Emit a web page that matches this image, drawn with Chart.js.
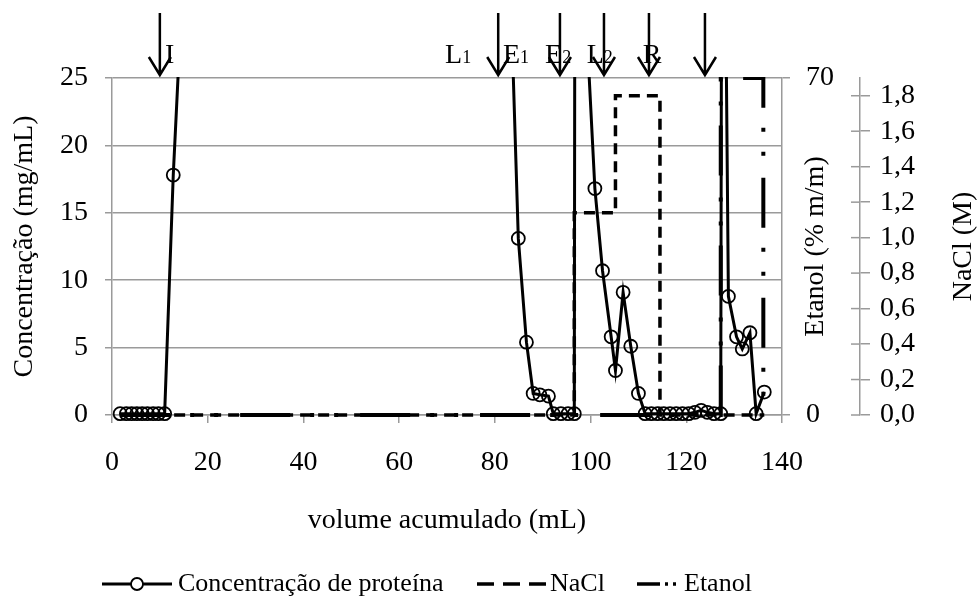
<!DOCTYPE html>
<html>
<head>
<meta charset="utf-8">
<script src="https://cdn.jsdelivr.net/npm/chart.js@4/dist/chart.umd.min.js"></script>
<style>
  html, body { margin: 0; padding: 0; background: #fff; }
  #grafico { display: block; }
</style>
</head>
<body>
<canvas id="grafico" width="979" height="596"></canvas>
<script>
// volume acumulado (mL) x concentração de proteína (mg/mL)
const proteinVolume = [1.7, 3.0, 4.1, 5.2, 6.3, 7.4, 8.6, 9.7, 11.0, 12.8, 14.2,
  83.6, 84.9, 86.6, 88.0, 89.4, 91.2, 92.2, 93.8, 95.3, 96.6, 96.8, 99.0,
  100.9, 102.5, 104.3, 105.2, 106.8, 108.4, 110.0,
  111.4, 112.7, 114.0, 115.3, 116.6, 117.9, 119.2, 120.5, 121.8, 123.1, 124.4, 125.8, 127.2,
  127.5, 128.8, 130.5, 131.7, 133.3, 134.6, 136.3];
const proteinConc = [0.1, 0.1, 0.1, 0.1, 0.1, 0.1, 0.1, 0.1, 0.1, 17.8, 28.0,
  28.0, 13.1, 5.4, 1.6, 1.5, 1.4, 0.1, 0.1, 0.1, 0.1, 60.0, 30.0,
  16.8, 10.7, 5.8, 3.3, 9.1, 5.1, 1.6,
  0.1, 0.1, 0.1, 0.1, 0.1, 0.1, 0.1, 0.1, 0.2, 0.35, 0.2, 0.1, 0.1,
  60.0, 8.8, 5.8, 4.9, 6.1, 0.1, 1.7];

// NaCl (M)
const naclVolume = [1.7, 96.6, 96.6, 105.2, 105.2, 114.5, 114.5, 136.3];
const naclConc = [0, 0, 1.14, 1.14, 1.8, 1.8, 0, 0];

// Etanol (% m/m)
const etanolVolume = [1.7, 127.2, 127.2, 136.1, 136.1];
const etanolConc = [0, 0, 70, 70, 0];

// setas das etapas
const arrowVolume = [10.0, 80.7, 93.6, 102.8, 112.2, 123.9];
const stageName = ['I', 'L', 'E', 'E', 'L', 'R'];
const stageSub = ['', '1', '1', '2', '2', ''];
const stageVolume = [11.1, 69.6, 81.7, 90.5, 99.2, 110.9];

const serif = "'Liberation Serif', 'Times New Roman', serif";
const gray = '#9a9a9a';

function toPoints(xs, ys) {
  return xs.map((x, i) => ({ x: x, y: ys[i] }));
}

// setas e letras acima do gráfico
const stagesPlugin = {
  id: 'stages',
  afterDraw(chart) {
    const ctx = chart.ctx;
    const xs = chart.scales.x;
    const top = chart.chartArea.top;
    ctx.save();
    ctx.strokeStyle = '#000';
    ctx.lineWidth = 2.5;
    arrowVolume.forEach((v) => {
      const px = xs.getPixelForValue(v);
      ctx.beginPath();
      ctx.moveTo(px, top - 65);
      ctx.lineTo(px, top - 3);
      ctx.moveTo(px - 11, top - 21);
      ctx.lineTo(px, top - 3);
      ctx.lineTo(px + 11, top - 21);
      ctx.stroke();
    });
    ctx.fillStyle = '#000';
    ctx.textBaseline = 'alphabetic';
    ctx.textAlign = 'left';
    stageName.forEach((s, i) => {
      let px = xs.getPixelForValue(stageVolume[i]);
      ctx.font = '28px ' + serif;
      ctx.fillText(s, px, top - 15);
      px += ctx.measureText(s).width;
      if (stageSub[i]) {
        ctx.font = '18px ' + serif;
        ctx.fillText(stageSub[i], px, top - 15);
      }
    });
    ctx.restore();
  }
};

// títulos dos eixos da direita (lidos de baixo para cima) e marcas do eixo NaCl
const rightTitlesPlugin = {
  id: 'rightTitles',
  afterDraw(chart) {
    const ctx = chart.ctx;
    const area = chart.chartArea;
    const mid = (area.top + area.bottom) / 2;
    ctx.save();
    ctx.fillStyle = '#000';
    ctx.font = '28px ' + serif;
    ctx.textAlign = 'center';
    ctx.textBaseline = 'middle';
    [['Etanol (% m/m)', 816], ['NaCl (M)', 964]].forEach(([t, x]) => {
      ctx.save();
      ctx.translate(x, mid);
      ctx.rotate(-Math.PI / 2);
      ctx.fillText(t, 0, 0);
      ctx.restore();
    });
    const s = chart.scales.y2;
    ctx.strokeStyle = gray;
    ctx.lineWidth = 1.5;
    s.ticks.forEach((t) => {
      const py = s.getPixelForValue(t.value);
      ctx.beginPath();
      ctx.moveTo(s.left - 9, py);
      ctx.lineTo(s.left, py);
      ctx.stroke();
    });
    ctx.restore();
  }
};

// legenda desenhada embaixo
const legendPlugin = {
  id: 'bottomLegend',
  afterDraw(chart) {
    const ctx = chart.ctx;
    const y = 584;
    const items = [
      { from: 102, to: 172, dash: [], width: 3, marker: true, tx: 178 },
      { from: 477, to: 548, dash: [17, 9], width: 3.5, marker: false, tx: 550 },
      { from: 637, to: 678, dash: [23, 5, 3, 5, 3, 50], width: 3.5, marker: false, tx: 684 }
    ];
    ctx.save();
    items.forEach((it, i) => {
      const ds = chart.data.datasets[i];
      ctx.strokeStyle = '#000';
      ctx.lineWidth = it.width;
      ctx.setLineDash(it.dash);
      ctx.beginPath();
      ctx.moveTo(it.from, y);
      ctx.lineTo(it.to, y);
      ctx.stroke();
      ctx.setLineDash([]);
      if (it.marker) {
        ctx.fillStyle = '#fff';
        ctx.lineWidth = 1.8;
        ctx.beginPath();
        ctx.arc((it.from + it.to) / 2, y, 6, 0, Math.PI * 2);
        ctx.fill();
        ctx.stroke();
      }
      ctx.fillStyle = '#000';
      ctx.font = '26px ' + serif;
      ctx.textAlign = 'left';
      ctx.textBaseline = 'middle';
      ctx.fillText(ds.label, it.tx, y);
    });
    ctx.restore();
  }
};

const areaClip = { left: 10, top: 1, right: 10, bottom: 10 };

new Chart(document.getElementById('grafico'), {
  type: 'line',
  data: {
    datasets: [
      {
        label: 'Concentração de proteína',
        data: toPoints(proteinVolume, proteinConc),
        yAxisID: 'y',
        borderColor: '#000',
        borderWidth: 3,
        pointRadius: 6.5,
        pointBorderWidth: 1.8,
        pointBorderColor: '#000',
        pointBackgroundColor: 'rgba(0,0,0,0)',
        tension: 0,
        clip: areaClip
      },
      {
        label: 'NaCl',
        data: toPoints(naclVolume, naclConc),
        yAxisID: 'y2',
        borderColor: '#000',
        borderWidth: 3.5,
        borderDash: [11, 7],
        pointRadius: 0,
        tension: 0,
        clip: areaClip
      },
      {
        label: 'Etanol',
        data: toPoints(etanolVolume, etanolConc),
        yAxisID: 'y1',
        borderColor: '#000',
        borderWidth: 4,
        borderDash: [50, 20, 4, 20, 4, 22],
        pointRadius: 0,
        tension: 0,
        clip: areaClip
      }
    ]
  },
  options: {
    responsive: false,
    animation: false,
    devicePixelRatio: 1,
    layout: { padding: { top: 78, bottom: 56, left: 0, right: 0 } },
    plugins: { legend: { display: false }, tooltip: { enabled: false } },
    scales: {
      x: {
        type: 'linear',
        position: 'bottom',
        min: 0,
        max: 140,
        afterFit: (s) => { s.height = 125; },
        ticks: { stepSize: 20, color: '#000', font: { family: serif, size: 28 }, padding: 23, maxRotation: 0 },
        grid: { drawOnChartArea: false, drawTicks: true, tickLength: 8, color: gray, lineWidth: 1.5 },
        border: { color: gray, width: 1.5 },
        title: { display: true, text: 'volume acumulado (mL)', color: '#000', font: { family: serif, size: 28 }, padding: { top: 0, bottom: 3 } }
      },
      y: {
        position: 'left',
        min: 0,
        max: 25,
        afterFit: (s) => { s.width = 112; },
        ticks: { stepSize: 5, color: '#000', font: { family: serif, size: 28 }, padding: 17 },
        grid: { color: gray, lineWidth: 1.5, tickLength: 7 },
        border: { color: gray, width: 1.5 },
        title: { display: true, text: 'Concentração (mg/mL)', color: '#000', font: { family: serif, size: 28 }, padding: { top: 8, bottom: 0 } }
      },
      y1: {
        position: 'right',
        weight: 0,
        min: 0,
        max: 70,
        afterFit: (s) => { s.width = 78; },
        ticks: { stepSize: 70, color: '#000', font: { family: serif, size: 28 }, padding: 16 },
        grid: { drawOnChartArea: false, tickLength: 8, color: gray, lineWidth: 1.5 },
        border: { color: gray, width: 1.5 }
      },
      y2: {
        position: 'right',
        weight: 1,
        min: 0,
        max: 1.9,
        afterFit: (s) => { s.width = 119; },
        afterBuildTicks: (s) => { s.ticks = s.ticks.filter((t) => t.value <= 1.8001); },
        ticks: {
          stepSize: 0.2,
          includeBounds: false,
          color: '#000',
          font: { family: serif, size: 28 },
          padding: 10,
          callback: (v) => v.toFixed(1).replace('.', ',')
        },
        grid: { drawOnChartArea: false, tickLength: 10, color: gray, lineWidth: 1.5 },
        border: { color: gray, width: 1.5 }
      }
    }
  },
  plugins: [stagesPlugin, rightTitlesPlugin, legendPlugin]
});
</script>
</body>
</html>
